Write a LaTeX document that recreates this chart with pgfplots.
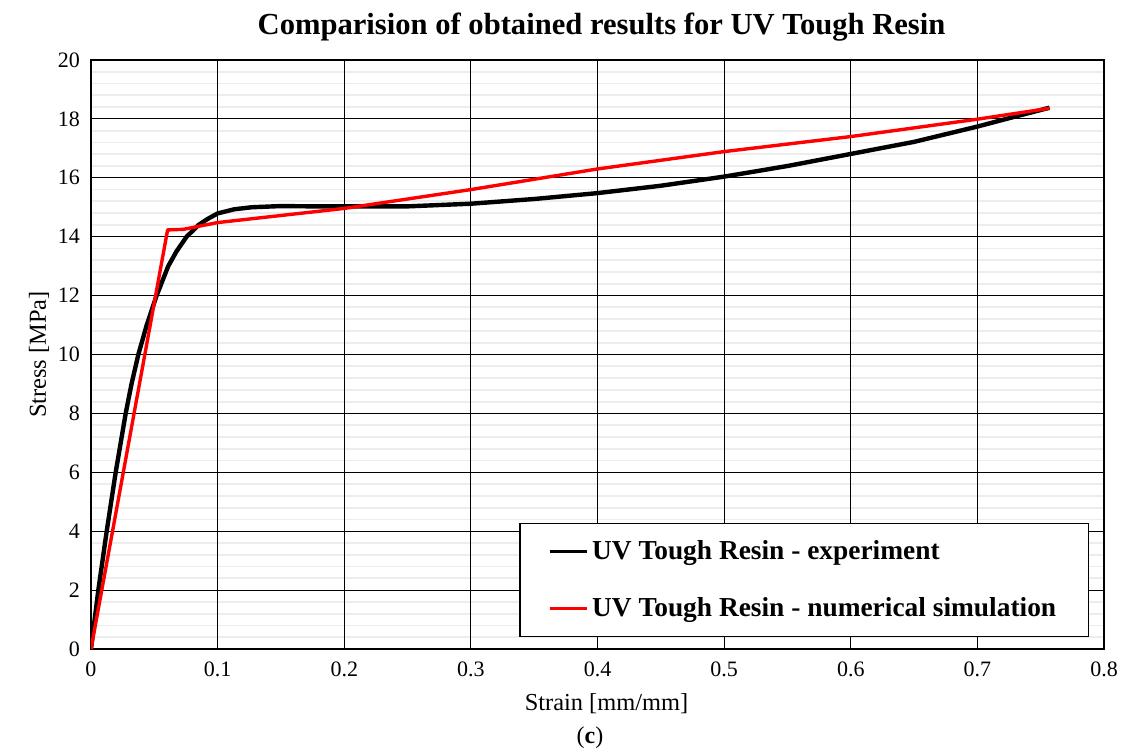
\documentclass[border=0pt]{standalone}
\usepackage{fontspec}
\setmainfont{Liberation Serif}
\usepackage{pgfplots}
\pgfplotsset{compat=1.18}

\begin{document}
\begin{tikzpicture}
\begin{axis}[
  scale only axis,
  width=506.5pt, height=294.5pt,
  xmin=0, xmax=0.8, ymin=0, ymax=20,
  xtick={0,0.1,...,0.8},
  ytick={0,2,...,20},
  minor y tick num=4,
  xmajorgrids, ymajorgrids, yminorgrids,
  major grid style={black, line width=0.6pt},
  minor grid style={black, draw opacity=0.07, line width=0.9pt},
  axis line style={black, line width=0.8pt},
  major tick length=0pt, minor tick length=0pt,
  tick label style={font=\fontsize{11}{13}\selectfont},
  /pgf/number format/assume math mode=true,
  xticklabel style={/pgf/number format/fixed, /pgf/number format/precision=1, yshift=-3pt},
  yticklabel style={xshift=-2pt},
  title={\textbf{Comparision of obtained results for UV Tough Resin}},
  title style={font=\fontsize{15.3}{17}\selectfont, at={(rel axis cs:0.504,1)}, anchor=south, yshift=0pt},
  xlabel={Strain [mm/mm]},
  ylabel={Stress [MPa]},
  label style={font=\fontsize{12.2}{14}\selectfont},
  xlabel style={yshift=-1.5pt, xshift=4.5pt},
  ylabel style={yshift=-2.5pt},
  legend cell align=left,
  legend style={
    at={(rel axis cs:0.985,0.0204)}, anchor=south east,
    draw=black, line width=0.6pt, fill=white,
    font=\bfseries\fontsize{13.7}{16}\selectfont,
    inner xsep=14pt, inner ysep=6.5pt,
    row sep=13.5pt,
    /tikz/every even column/.append style={column sep=0pt},
  },
  legend image code/.code={\draw[#1, line width=1.6pt] (0pt,0pt) -- (18.5pt,0pt);},
  clip=true,
]
% experimental stress-strain record
\addplot[black, line width=2.2pt, line join=round] coordinates {
  (0,0) (0.0058,2.0) (0.0124,4.0) (0.0195,6.0) (0.0274,8.0) (0.032,9.0)
  (0.0374,10.0) (0.044,11.0) (0.0518,12.0) (0.061,13.0) (0.0675,13.5)
  (0.0755,14.0) (0.085,14.4) (0.092,14.6) (0.1,14.79) (0.113,14.93)
  (0.127,15.0) (0.15,15.04) (0.175,15.03) (0.2,15.03) (0.25,15.03)
  (0.3,15.12) (0.35,15.28) (0.4,15.48) (0.45,15.73) (0.5,16.04)
  (0.55,16.4) (0.6,16.81) (0.65,17.22) (0.7,17.74) (0.73,18.08)
  (0.757,18.38)
};
\addlegendentry{UV Tough Resin - experiment}
% simulated response
\addplot[red, line width=1.7pt, line join=round] coordinates {
  (0,0) (0.0605,14.23) (0.073,14.25) (0.1,14.48) (0.2,14.96) (0.3,15.6)
  (0.4,16.3) (0.5,16.89) (0.6,17.4) (0.7,17.99) (0.757,18.36)
};
\addlegendentry{UV Tough Resin - numerical simulation}
\coordinate (bl) at (rel axis cs:0,0);
\coordinate (tr) at (rel axis cs:1,1);
\coordinate (cap) at (rel axis cs:0.4926,0);
\end{axis}
\node[font=\fontsize{12}{14}\selectfont] at ([yshift=-44.5pt]cap) {(\textbf{c})};
\pgfresetboundingbox
\path ([xshift=-45.5pt,yshift=-52.5pt]bl) rectangle ([xshift=12pt,yshift=30pt]tr);
\end{tikzpicture}
\end{document}
